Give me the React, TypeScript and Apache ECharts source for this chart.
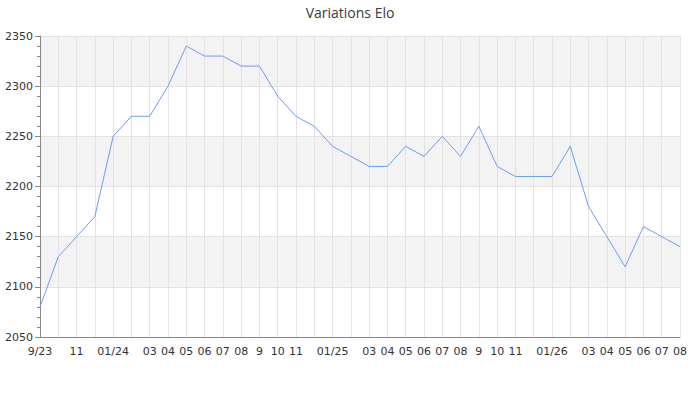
import React, { useEffect, useRef } from "react";
import * as echarts from "echarts";

const months = [
  "2023-09", "2023-10", "2023-11", "2023-12", "2024-01", "2024-02", "2024-03", "2024-04", "2024-05",
  "2024-06", "2024-07", "2024-08", "2024-09", "2024-10", "2024-11", "2024-12", "2025-01", "2025-02",
  "2025-03", "2025-04", "2025-05", "2025-06", "2025-07", "2025-08", "2025-09", "2025-10", "2025-11",
  "2025-12", "2026-01", "2026-02", "2026-03", "2026-04", "2026-05", "2026-06", "2026-07", "2026-08",
];

const tickLabels = [
  "9/23", "", "11", "", "01/24", "", "03", "04", "05",
  "06", "07", "08", "9", "10", "11", "", "01/25", "",
  "03", "04", "05", "06", "07", "08", "9", "10", "11",
  "", "01/26", "", "03", "04", "05", "06", "07", "08",
];

const elo = [
  2080, 2130, 2150, 2170, 2250, 2270, 2270, 2300, 2340,
  2330, 2330, 2320, 2320, 2290, 2270, 2260, 2240, 2230,
  2220, 2220, 2240, 2230, 2250, 2230, 2260, 2220, 2210,
  2210, 2210, 2240, 2180, 2150, 2120, 2160, 2150, 2140,
];

const yMin = 2050;
const yMax = 2350;
const yStep = 50;

export default function App() {
  const ref = useRef<HTMLDivElement>(null);
  useEffect(() => {
    if (!ref.current) return;
    const chart = echarts.init(ref.current, null, { renderer: "svg" });
    chart.setOption({
      animation: false,
      title: {
        text: "Variations Elo",
        left: "center",
        top: 0,
        textStyle: { fontFamily: "Open Sans", fontSize: 14, fontWeight: "normal", color: "#3a3a3a" },
      },
      grid: { left: 40, right: 20, top: 36, bottom: 63, containLabel: false },
      xAxis: {
        type: "category",
        data: months,
        boundaryGap: false,
        axisLine: { show: true, lineStyle: { color: "#888", width: 1 } },
        axisTick: { show: false },
        axisLabel: {
          interval: 0,
          margin: 9,
          fontFamily: "DejaVu Sans",
          fontSize: 11,
          color: "#333",
          formatter: (_v: string, i: number) => tickLabels[i],
        },
        splitLine: { show: true, interval: 0, lineStyle: { color: "#e2e2e2", width: 1 } },
      },
      yAxis: {
        type: "value",
        min: yMin,
        max: yMax,
        interval: yStep,
        axisLine: { show: true, lineStyle: { color: "#888", width: 1 } },
        axisTick: { show: true, length: 5, lineStyle: { color: "#888" } },
        minorTick: { show: true, splitNumber: 5, length: 3, lineStyle: { color: "#888" } },
        axisLabel: {
          fontFamily: "DejaVu Sans",
          fontSize: 11,
          color: "#333",
          margin: 7,
          formatter: (v: number) => String(v),
        },
        splitLine: { show: true, lineStyle: { color: "#e2e2e2", width: 1 } },
        splitArea: { show: true, areaStyle: { color: ["#ffffff", "#f3f3f3"] } },
      },
      series: [
        {
          type: "line",
          data: elo,
          symbol: "none",
          lineStyle: { color: "#6b9cf0", width: 1 },
        },
      ],
    });
    return () => chart.dispose();
  }, []);
  return (
    <div
      ref={ref}
      style={{ position: "absolute", left: 0, top: 0, width: 700, height: 400 }}
    />
  );
}
